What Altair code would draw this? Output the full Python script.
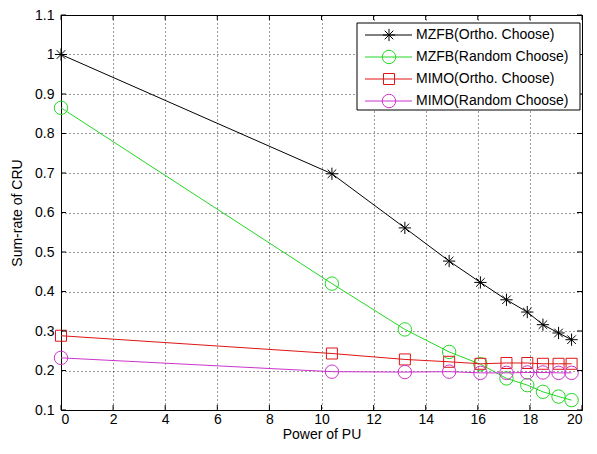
import altair as alt
import pandas as pd

# ---- data ----
power_pu = [0, 10.4, 13.2, 14.9, 16.1, 17.1, 17.9, 18.5, 19.1, 19.6]
series_names = ["MZFB(Ortho. Choose)", "MZFB(Random Choose)",
                "MIMO(Ortho. Choose)", "MIMO(Random Choose)"]
mzfb_ortho = [1.0, 0.698, 0.561, 0.477, 0.423, 0.379, 0.348, 0.316, 0.295, 0.278]
mzfb_random = [0.865, 0.420, 0.304, 0.247, 0.216, 0.180, 0.163, 0.146, 0.134, 0.125]
mimo_ortho = [0.288, 0.243, 0.228, 0.222, 0.217, 0.219, 0.219, 0.217, 0.217, 0.217]
mimo_random = [0.232, 0.197, 0.196, 0.197, 0.194, 0.194, 0.195, 0.195, 0.194, 0.194]
x_ticks = [0, 2, 4, 6, 8, 10, 12, 14, 16, 18, 20]
y_ticks = [0.1, 0.2, 0.3, 0.4, 0.5, 0.6, 0.7, 0.8, 0.9, 1.0, 1.1]

# ---- styles ----
colors = ["#000000", "#22d822", "#e01515", "#cc33cc"]
star = "M-1,0L1,0M0,-1L0,1M-0.7,-0.7L0.7,0.7M-0.7,0.7L0.7,-0.7"
shapes = [star, "circle", "square", "circle"]
sizes = [150, 180, 121, 180]
W, H = 521, 395
FONT = "Liberation Sans"

all_vals = [mzfb_ortho, mzfb_random, mimo_ortho, mimo_random]
rows = []
for name, vals in zip(series_names, all_vals):
    for xv, yv in zip(power_pu, vals):
        rows.append({"series": name, "x": xv, "y": yv})
df = pd.DataFrame(rows)

xenc = alt.X("x:Q", scale=alt.Scale(domain=[0, 20], nice=False, zero=False),
             axis=alt.Axis(values=x_ticks, title="Power of PU", format="d",
                           grid=True, gridDash=[1, 3], gridColor="#000000",
                           gridOpacity=0.8, ticks=False, domain=False,
                           labelPadding=2, titlePadding=1))
yenc = alt.Y("y:Q", scale=alt.Scale(domain=[0.1, 1.1], nice=False, zero=False),
             axis=alt.Axis(values=y_ticks, title="Sum-rate of CRU", format="~g",
                           grid=True, gridDash=[1, 3], gridColor="#000000",
                           gridOpacity=0.8, ticks=False, domain=False,
                           labelPadding=7, titlePadding=10))

layers = []
for name, col, shp, sz in zip(series_names, colors, shapes, sizes):
    b = alt.Chart(df).transform_filter(alt.datum.series == name)
    layers.append(b.mark_line(strokeWidth=1, color=col).encode(x=xenc, y=yenc))
    layers.append(b.mark_point(filled=False, strokeWidth=1, color=col,
                               shape=shp, size=sz, opacity=1).encode(x=xenc, y=yenc))

# inside tick marks on all four sides (MATLAB style)
xt = pd.DataFrame({"x": x_ticks})
yt = pd.DataFrame({"y": y_ticks})
tick_style = dict(color="#000000", strokeWidth=1)
layers.append(alt.Chart(xt).mark_rule(**tick_style).encode(x=xenc, y=alt.value(H), y2=alt.value(H - 5)))
layers.append(alt.Chart(xt).mark_rule(**tick_style).encode(x=xenc, y=alt.value(0), y2=alt.value(5)))
layers.append(alt.Chart(yt).mark_rule(**tick_style).encode(y=yenc, x=alt.value(0), x2=alt.value(5)))
layers.append(alt.Chart(yt).mark_rule(**tick_style).encode(y=yenc, x=alt.value(W), x2=alt.value(W - 5)))

# legend box
one = alt.Data(values=[{"a": 1}])
layers.append(alt.Chart(one).mark_rect(fill="white", stroke="#000000", strokeWidth=1).encode(
    x=alt.value(296), x2=alt.value(519), y=alt.value(8), y2=alt.value(95)))
row_y = [20, 42, 64, 86]
for name, col, shp, sz, ry in zip(series_names, colors, shapes, sizes, row_y):
    layers.append(alt.Chart(one).mark_rule(color=col, strokeWidth=1).encode(
        x=alt.value(304), x2=alt.value(351), y=alt.value(ry)))
    layers.append(alt.Chart(one).mark_point(filled=False, strokeWidth=1, color=col,
                                            shape=shp, size=sz, opacity=1).encode(
        x=alt.value(328), y=alt.value(ry)))
    layers.append(alt.Chart(one).mark_text(text=name, align="left", baseline="middle",
                                           font=FONT, fontSize=14, color="#000000").encode(
        x=alt.value(355), y=alt.value(ry)))

chart = alt.layer(*layers).properties(
    width=W, height=H,
    autosize=alt.AutoSizeParams(type="none"),
    padding={"left": 53, "top": 7, "right": 7, "bottom": 32},
    background="white",
).configure_view(stroke="#000000", strokeWidth=1).configure_axis(
    labelFont=FONT, titleFont=FONT, labelFontSize=14, titleFontSize=14,
    labelColor="#000000", titleColor="#000000", titleFontWeight="normal",
)

chart.save("out.html", embed_options={"renderer": "svg", "actions": False})
